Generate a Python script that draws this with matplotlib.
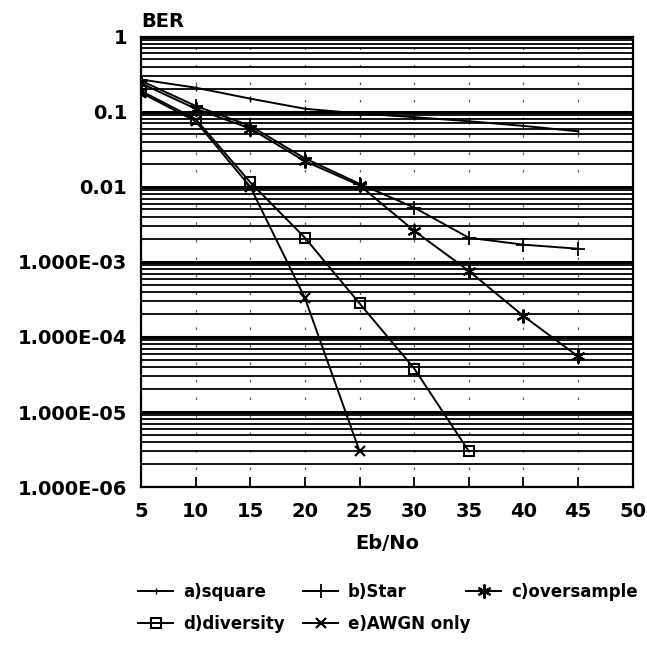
import matplotlib.pyplot as plt
from matplotlib.ticker import FixedLocator, NullFormatter
import numpy

# Data
ebno_a = [5, 10, 15, 20, 25, 30, 35, 40, 45]
ber_a = [0.27, 0.21, 0.15, 0.11, 0.095, 0.085, 0.075, 0.065, 0.055]

ebno_b = [5, 10, 15, 20, 25, 30, 35, 40, 45]
ber_b = [0.26, 0.12, 0.065, 0.024, 0.011, 0.0053, 0.0021, 0.0017, 0.0015]

ebno_c = [5, 10, 15, 20, 25, 30, 35, 40, 45]
ber_c = [0.24, 0.11, 0.06, 0.022, 0.0105, 0.0026, 7.6e-4, 1.9e-4, 5.5e-5]

ebno_d = [5, 10, 15, 20, 25, 30, 35]
ber_d = [0.19, 0.08, 0.0115, 0.0021, 2.8e-4, 3.8e-5, 3e-6]

ebno_e = [5, 10, 15, 20, 25]
ber_e = [0.18, 0.075, 0.01, 3.3e-4, 3e-6]

labels = ["a)square", "b)Star", "c)oversample", "d)diversity", "e)AWGN only"]
xticks = [5, 10, 15, 20, 25, 30, 35, 40, 45, 50]
yticks = [1, 0.1, 0.01, 1e-3, 1e-4, 1e-5, 1e-6]
ytick_labels = ["1", "0.1", "0.01", "1.000E-03", "1.000E-04", "1.000E-05", "1.000E-06"]

plt.rcParams["font.family"] = "DejaVu Sans"
plt.rcParams["font.weight"] = "bold"

fig = plt.figure(figsize=[6.47, 6.46], dpi=100)
ax = fig.add_axes([0.218, 0.246, 0.76, 0.697])
ax.set_yscale("log")
ax.set_xlim(5, 50)
ax.set_ylim(1e-6, 1)

# Dense horizontal grid (major + minor decades)
minor = []
for k in range(-6, 0):
	for m in range(2, 10):
		minor.append(m * 10.0 ** k)
ax.yaxis.set_minor_locator(FixedLocator(minor))
ax.yaxis.set_minor_formatter(NullFormatter())
ax.grid(True, which="major", axis="y", color="black", linewidth=2.2)
ax.grid(True, which="minor", axis="y", color="black", linewidth=1.3)
# faint dotted verticals left over in the scan
ax.grid(True, which="major", axis="x", color="0.35", linewidth=0.9, linestyle=(0, (2, 12)))

lw = 1.4
h_a, = ax.plot(ebno_a, ber_a, color="black", lw=lw, marker="|", markersize=4, label=labels[0])
h_b, = ax.plot(ebno_b, ber_b, color="black", lw=lw, marker="+", markersize=10, markeredgewidth=1.3, label=labels[1])
h_c, = ax.plot(ebno_c, ber_c, color="black", lw=lw, marker=(6, 2, 0), markersize=10, markeredgewidth=1.6, label=labels[2])
h_d, = ax.plot(ebno_d, ber_d, color="black", lw=lw, marker="s", markersize=7, markerfacecolor="none", markeredgewidth=1.5, label=labels[3])
h_e, = ax.plot(ebno_e, ber_e, color="black", lw=lw, marker="x", markersize=7, markeredgewidth=1.6, label=labels[4])

ax.set_xticks(xticks)
ax.set_xticklabels([str(t) for t in xticks], fontsize=14, fontweight="bold")
ax.set_yticks(yticks)
ax.set_yticklabels(ytick_labels, fontsize=14, fontweight="bold")
ax.tick_params(axis="x", direction="in", length=7, width=1.3, pad=11)
ax.tick_params(axis="y", which="both", length=0, pad=10)
for s in ax.spines.values():
	s.set_linewidth(1.6)

ax.set_xlabel("Eb/No", fontsize=14, fontweight="bold", labelpad=9)
ax.text(0.0, 1.012, "BER", transform=ax.transAxes, fontsize=14, fontweight="bold", ha="left", va="bottom")

# Legend: a/b on row 1, d/e on row 2, c on its own at the right of row 1
leg_top = 1 - 583 / 646.
leg_kw = dict(loc="upper left", frameon=False, handlelength=2.1, handletextpad=0.6,
	labelspacing=0.85, borderpad=0, borderaxespad=0, prop={"weight": "bold", "size": 12})
fig.legend([h_a, h_d, h_b, h_e], [labels[0], labels[3], labels[1], labels[4]], ncol=2,
	bbox_to_anchor=(138 / 647., leg_top), columnspacing=1.1, **leg_kw)
fig.legend([h_c], [labels[2]], bbox_to_anchor=(466 / 647., leg_top), **leg_kw)

fig.savefig("out.png", dpi=100)
